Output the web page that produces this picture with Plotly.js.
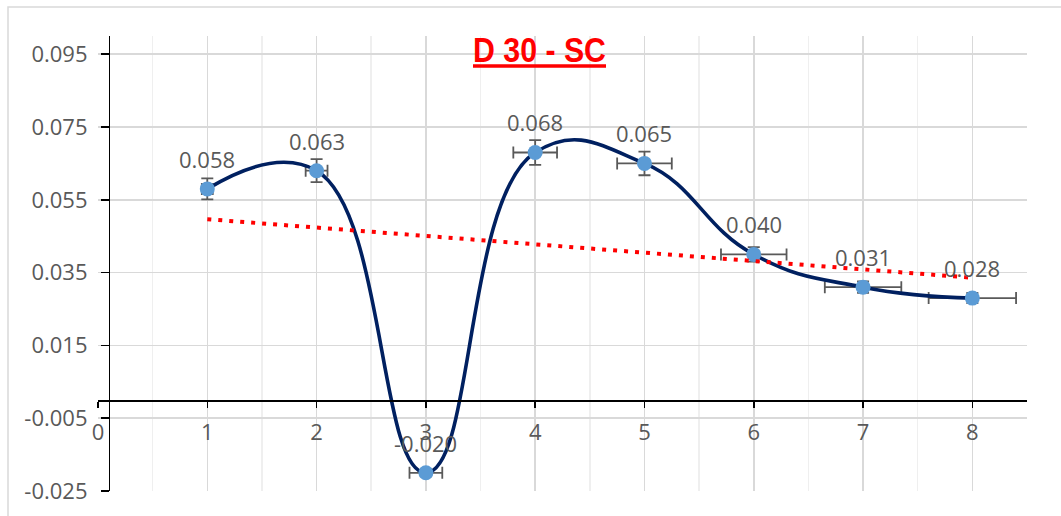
<!DOCTYPE html>
<html>
<head>
<meta charset="utf-8">
<script src="https://cdn.plot.ly/plotly-3.0.1.min.js"></script>
<style>
html,body{margin:0;padding:0;background:#fff;}
#chart{width:1061px;height:516px;}
</style>
</head>
<body>
<div id="chart"></div>
<script>
// ---- data ----
var xValues = [1, 2, 3, 4, 5, 6, 7, 8];
var yValues = [0.058, 0.063, -0.020, 0.068, 0.065, 0.040, 0.031, 0.028];
var xTickValues = [0, 1, 2, 3, 4, 5, 6, 7, 8];
var xTickLabels = ["0", "1", "2", "3", "4", "5", "6", "7", "8"];
var yTickValues = [-0.025, -0.005, 0.015, 0.035, 0.055, 0.075, 0.095];
var yTickLabels = ["-0.025", "-0.005", "0.015", "0.035", "0.055", "0.075", "0.095"];
var errorPercent = 5;
var chartTitle = "D 30 - SC";

// linear trendline (least squares) from the data
function linFit(xs, ys) {
  var n = xs.length, sx = 0, sy = 0, sxx = 0, sxy = 0;
  for (var i = 0; i < n; i++) { sx += xs[i]; sy += ys[i]; sxx += xs[i]*xs[i]; sxy += xs[i]*ys[i]; }
  var m = (n*sxy - sx*sy) / (n*sxx - sx*sx);
  var b = (sy - m*sx) / n;
  return {m: m, b: b};
}
var fit = linFit(xValues, yValues);
var trendX = [xValues[0], xValues[xValues.length-1]];
var trendY = trendX.map(function(x){ return fit.m*x + fit.b; });

var gray = '#595959';
var tickFont = {family: 'Open Sans, Noto Sans, sans-serif', size: 22, color: gray};

var mainTrace = {
  x: xValues, y: yValues,
  type: 'scatter', mode: 'lines+markers',
  line: {color: '#002060', width: 3.6, shape: 'spline', smoothing: 1.3},
  marker: {color: '#5B9BD5', size: 15, line: {color: '#5B9BD5', width: 0}},
  error_y: {type: 'percent', value: errorPercent, color: gray, thickness: 1.8, width: 6},
  error_x: {type: 'percent', value: errorPercent, color: gray, thickness: 1.8, width: 6},
  hoverinfo: 'x+y', showlegend: false
};
var trendTrace = {
  x: trendX, y: trendY,
  type: 'scatter', mode: 'lines',
  line: {color: '#FF0000', width: 4, dash: '4px,7px'},
  hoverinfo: 'skip', showlegend: false
};

var annotations = xValues.map(function(x, i){
  return {
    x: x, y: yValues[i], xref: 'x', yref: 'y',
    text: yValues[i].toFixed(3), showarrow: false,
    yshift: 30, font: tickFont
  };
});

var layout = {
  width: 1061, height: 516,
  margin: {l: 98, r: 34, t: 36, b: 25, pad: 0},
  paper_bgcolor: '#ffffff', plot_bgcolor: '#ffffff',
  title: {
    text: '<u>' + chartTitle + '</u>',
    font: {family: 'Liberation Sans, Arial, sans-serif', size: 35, color: '#FF0000', weight: 'bold'},
    x: 539.5/1061, xref: 'container', xanchor: 'center',
    y: 1 - 50/516, yref: 'container', yanchor: 'middle'
  },
  xaxis: {
    range: [0, 8.5],
    tickmode: 'array', tickvals: xTickValues, ticktext: xTickLabels,
    showgrid: true, gridcolor: '#d9d9d9', gridwidth: 1.5,
    minor: {dtick: 0.5, tick0: 0, showgrid: true, gridcolor: '#efefef', gridwidth: 1.5, ticks: ''},
    zeroline: false,
    showline: true, linecolor: '#000000', linewidth: 1.5,
    ticks: 'outside', ticklen: 6, tickwidth: 1.5, tickcolor: '#000000',
    anchor: 'free', position: 0.2,
    tickfont: tickFont, ticklabelstandoff: 6,
    fixedrange: true
  },
  yaxis: {
    range: [-0.025, 0.1],
    tickmode: 'array', tickvals: yTickValues, ticktext: yTickLabels,
    showgrid: true, gridcolor: '#d9d9d9', gridwidth: 1.5,
    zeroline: false,
    showline: true, linecolor: '#000000', linewidth: 1.5,
    ticks: 'outside', ticklen: 8, tickwidth: 1.5, tickcolor: '#000000',
    anchor: 'free', position: 0.1/8.5,
    tickfont: tickFont, ticklabelstandoff: 9,
    fixedrange: true
  },
  annotations: annotations,
  shapes: [{
    type: 'rect', xref: 'paper', yref: 'paper',
    x0: (8-98)/929, x1: 1.2, y0: -0.2, y1: 1 + (36-7)/455,
    line: {color: '#d9d9d9', width: 1.5}, fillcolor: 'rgba(0,0,0,0)', layer: 'below'
  }]
};

Plotly.newPlot('chart', [mainTrace, trendTrace], layout, {displayModeBar: false, staticPlot: true}).then(function(gd){
  // condense the title glyphs to the narrow width seen in the reference
  var t = gd.querySelector('.gtitle');
  if (t) {
    t.setAttribute('textLength', '133');
    t.setAttribute('lengthAdjust', 'spacingAndGlyphs');
  }
});
</script>
</body>
</html>
